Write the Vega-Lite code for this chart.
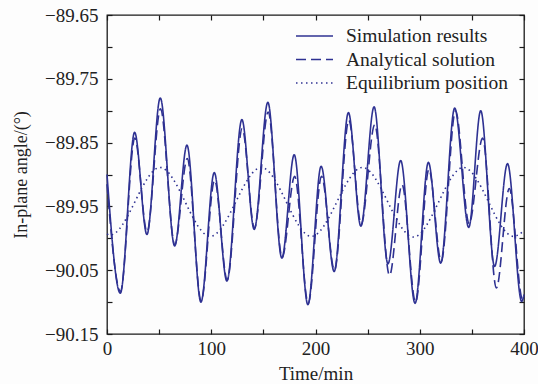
{
  "$schema": "https://vega.github.io/schema/vega-lite/v6.json",
  "autosize": "none",
  "width": 417,
  "height": 319,
  "padding": {"left": 107, "top": 15, "right": 14, "bottom": 50},
  "background": "#fdfdfd",
  "config": {
    "view": {"stroke": "#1a1a1a", "strokeWidth": 1.3},
    "font": "Liberation Serif",
    "axis": {"domain": false, "grid": false, "tickColor": "#1a1a1a", "tickWidth": 1.2, "labelFont": "Liberation Serif", "titleFont": "Liberation Serif", "labelColor": "#222", "titleColor": "#222", "titleFontWeight": "normal", "labelOverlap": false, "labelFlush": false, "labelBound": false}
  },
  "data": {"values": [
    {"s": "Simulation results", "t": 0, "v": -89.900},
    {"s": "Simulation results", "t": 12.8, "v": -90.086},
    {"s": "Simulation results", "t": 26.5, "v": -89.834},
    {"s": "Simulation results", "t": 38.3, "v": -89.994},
    {"s": "Simulation results", "t": 51.1, "v": -89.780},
    {"s": "Simulation results", "t": 64.9, "v": -90.012},
    {"s": "Simulation results", "t": 76.7, "v": -89.854},
    {"s": "Simulation results", "t": 90.1, "v": -90.100},
    {"s": "Simulation results", "t": 102.9, "v": -89.897},
    {"s": "Simulation results", "t": 115.0, "v": -90.067},
    {"s": "Simulation results", "t": 129.4, "v": -89.814},
    {"s": "Simulation results", "t": 141.2, "v": -89.986},
    {"s": "Simulation results", "t": 154.3, "v": -89.787},
    {"s": "Simulation results", "t": 167.7, "v": -90.031},
    {"s": "Simulation results", "t": 179.6, "v": -89.869},
    {"s": "Simulation results", "t": 192.7, "v": -90.104},
    {"s": "Simulation results", "t": 205.4, "v": -89.887},
    {"s": "Simulation results", "t": 217.9, "v": -90.052},
    {"s": "Simulation results", "t": 231.6, "v": -89.803},
    {"s": "Simulation results", "t": 243.5, "v": -89.981},
    {"s": "Simulation results", "t": 256.2, "v": -89.794},
    {"s": "Simulation results", "t": 269.5, "v": -90.040},
    {"s": "Simulation results", "t": 281.7, "v": -89.878},
    {"s": "Simulation results", "t": 295.5, "v": -90.102},
    {"s": "Simulation results", "t": 308.3, "v": -89.881},
    {"s": "Simulation results", "t": 320.1, "v": -90.039},
    {"s": "Simulation results", "t": 333.5, "v": -89.796},
    {"s": "Simulation results", "t": 347.0, "v": -89.983},
    {"s": "Simulation results", "t": 358.5, "v": -89.800},
    {"s": "Simulation results", "t": 371.8, "v": -90.044},
    {"s": "Simulation results", "t": 384.2, "v": -89.883},
    {"s": "Simulation results", "t": 397.8, "v": -90.099},
    {"s": "Simulation results", "t": 400, "v": -90.089},
    {"s": "Analytical solution", "t": 0, "v": -89.915},
    {"s": "Analytical solution", "t": 12.9, "v": -90.083},
    {"s": "Analytical solution", "t": 26.7, "v": -89.843},
    {"s": "Analytical solution", "t": 38.4, "v": -89.990},
    {"s": "Analytical solution", "t": 51.3, "v": -89.797},
    {"s": "Analytical solution", "t": 65.0, "v": -90.010},
    {"s": "Analytical solution", "t": 77.0, "v": -89.875},
    {"s": "Analytical solution", "t": 90.3, "v": -90.098},
    {"s": "Analytical solution", "t": 103.2, "v": -89.909},
    {"s": "Analytical solution", "t": 115.3, "v": -90.065},
    {"s": "Analytical solution", "t": 129.7, "v": -89.828},
    {"s": "Analytical solution", "t": 141.4, "v": -89.984},
    {"s": "Analytical solution", "t": 154.6, "v": -89.802},
    {"s": "Analytical solution", "t": 168.0, "v": -90.030},
    {"s": "Analytical solution", "t": 180.0, "v": -89.903},
    {"s": "Analytical solution", "t": 193.0, "v": -90.102},
    {"s": "Analytical solution", "t": 205.8, "v": -89.903},
    {"s": "Analytical solution", "t": 218.2, "v": -90.050},
    {"s": "Analytical solution", "t": 232.0, "v": -89.815},
    {"s": "Analytical solution", "t": 243.8, "v": -89.978},
    {"s": "Analytical solution", "t": 256.8, "v": -89.822},
    {"s": "Analytical solution", "t": 271.0, "v": -90.058},
    {"s": "Analytical solution", "t": 283.0, "v": -89.916},
    {"s": "Analytical solution", "t": 296.0, "v": -90.100},
    {"s": "Analytical solution", "t": 308.8, "v": -89.892},
    {"s": "Analytical solution", "t": 320.6, "v": -90.036},
    {"s": "Analytical solution", "t": 334.3, "v": -89.800},
    {"s": "Analytical solution", "t": 347.4, "v": -89.977},
    {"s": "Analytical solution", "t": 360.3, "v": -89.843},
    {"s": "Analytical solution", "t": 373.5, "v": -90.078},
    {"s": "Analytical solution", "t": 385.9, "v": -89.922},
    {"s": "Analytical solution", "t": 398.5, "v": -90.095},
    {"s": "Analytical solution", "t": 400, "v": -90.088},
    {"s": "Equilibrium position", "t": 0, "v": -89.993},
    {"s": "Equilibrium position", "t": 3, "v": -89.995},
    {"s": "Equilibrium position", "t": 51, "v": -89.889},
    {"s": "Equilibrium position", "t": 99, "v": -89.997},
    {"s": "Equilibrium position", "t": 148, "v": -89.889},
    {"s": "Equilibrium position", "t": 196, "v": -89.997},
    {"s": "Equilibrium position", "t": 245, "v": -89.889},
    {"s": "Equilibrium position", "t": 294, "v": -89.998},
    {"s": "Equilibrium position", "t": 342, "v": -89.889},
    {"s": "Equilibrium position", "t": 390, "v": -89.997},
    {"s": "Equilibrium position", "t": 400, "v": -89.988}
  ]},
  "resolve": {"axis": {"x": "independent", "y": "independent"}},
  "layer": [
    {
      "mark": {"type": "line", "interpolate": "monotone", "color": "#2e3192", "strokeWidth": 1.6},
      "encoding": {
        "x": {"field": "t", "type": "quantitative", "scale": {"domain": [0, 400], "nice": false, "zero": false},
          "axis": {"title": "Time/min", "values": [0, 50, 100, 150, 200, 250, 300, 350, 400], "labelExpr": "datum.value % 100 == 0 ? datum.label : ''", "tickSize": -5, "labelPadding": 10, "labelFontSize": 19, "titleFontSize": 19, "titlePadding": 6}},
        "y": {"field": "v", "type": "quantitative", "scale": {"domain": [-90.15, -89.65], "nice": false, "zero": false},
          "axis": {"title": "In-plane angle/(°)", "values": [-90.15, -90.1, -90.05, -90.0, -89.95, -89.9, -89.85, -89.8, -89.75, -89.7, -89.65], "format": ".2f", "labelExpr": "abs(round(datum.value*20)) % 2 == 1 ? datum.label : ''", "tickSize": -5, "labelPadding": 14, "labelFontSize": 19, "titleFontSize": 18, "titlePadding": 14}},
        "strokeDash": {"field": "s", "type": "nominal",
          "scale": {"domain": ["Simulation results", "Analytical solution", "Equilibrium position"], "range": [[1, 0], [10, 5], [1.5, 3.5]]},
          "legend": {"title": null, "orient": "none", "legendX": 197.5, "legendY": 11, "symbolType": "M-2,0H2", "symbolSize": 342, "symbolStrokeColor": "#2e3192", "symbolFillColor": "transparent", "symbolStrokeWidth": 1.5, "labelFont": "Liberation Serif", "labelFontSize": 19.5, "labelColor": "#222", "labelOffset": 21.5, "rowPadding": 3.5, "labelLimit": 300}}
      }
    },
    {
      "mark": {"type": "line", "strokeOpacity": 0},
      "encoding": {
        "x": {"field": "t", "type": "quantitative", "scale": {"domain": [0, 400], "nice": false, "zero": false},
          "axis": {"orient": "top", "title": null, "values": [0, 50, 100, 150, 200, 250, 300, 350, 400], "labels": false, "tickSize": -5}},
        "y": {"field": "v", "type": "quantitative", "scale": {"domain": [-90.15, -89.65], "nice": false, "zero": false},
          "axis": {"orient": "right", "title": null, "values": [-90.15, -90.1, -90.05, -90.0, -89.95, -89.9, -89.85, -89.8, -89.75, -89.7, -89.65], "labels": false, "tickSize": -5}}
      }
    }
  ]
}
